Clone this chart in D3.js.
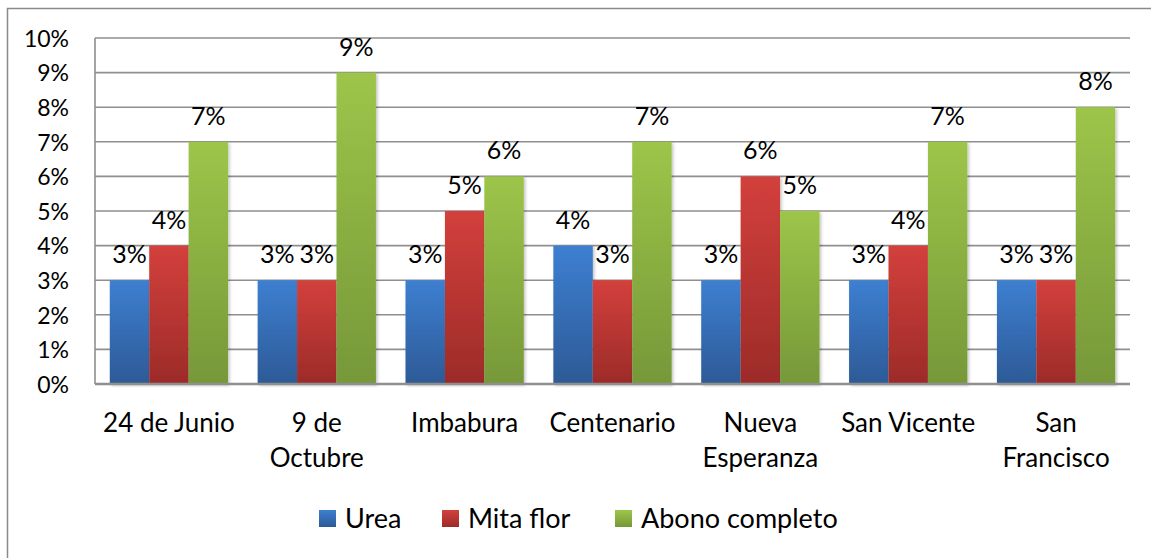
<!DOCTYPE html>
<html>
<head>
<meta charset="utf-8">
<script src="https://cdnjs.cloudflare.com/ajax/libs/d3/7.8.5/d3.min.js"></script>
<style>
  body { margin: 0; background: #fff; }
  svg text { font-family: Lato, "Noto Sans", sans-serif; fill: #000; }
</style>
</head>
<body>
<div class="chart"></div>
<script>
// data
var categories = ["24 de Junio", "9 de\nOctubre", "Imbabura", "Centenario", "Nueva\nEsperanza", "San Vicente", "San\nFrancisco"];
var seriesNames = ["Urea", "Mita flor", "Abono completo"];
var urea = [0.03, 0.03, 0.03, 0.04, 0.03, 0.03, 0.03];
var mitaFlor = [0.04, 0.03, 0.05, 0.03, 0.06, 0.04, 0.03];
var abonoCompleto = [0.07, 0.09, 0.06, 0.07, 0.05, 0.07, 0.08];
var yTicks = [0, 0.01, 0.02, 0.03, 0.04, 0.05, 0.06, 0.07, 0.08, 0.09, 0.10];

var seriesValues = [urea, mitaFlor, abonoCompleto];
var colors = [
  { top: "#3d7fd1", bottom: "#2d5a96" },
  { top: "#d3403c", bottom: "#9c2b28" },
  { top: "#9dc549", bottom: "#769839" }
];

var svgWidth = 1151;
var svgHeight = 558;

var margin = { top: 38, right: 21, bottom: 174, left: 95 };
var width = svgWidth - margin.left - margin.right;
var height = svgHeight - margin.top - margin.bottom;

var svg = d3.select(".chart")
  .append("svg")
  .attr("width", svgWidth)
  .attr("height", svgHeight);

// gradients for the bars
var defs = svg.append("defs");
colors.forEach(function(c, i) {
  var g = defs.append("linearGradient")
    .attr("id", "grad" + i)
    .attr("x1", 0).attr("y1", 0).attr("x2", 0).attr("y2", 1);
  g.append("stop").attr("offset", "0%").attr("stop-color", c.top);
  g.append("stop").attr("offset", "100%").attr("stop-color", c.bottom);
});
var shadow = defs.append("filter").attr("id", "shadow")
  .attr("x", "-20%").attr("y", "-5%").attr("width", "140%").attr("height", "115%");
shadow.append("feDropShadow")
  .attr("dx", 1.5).attr("dy", 1.5).attr("stdDeviation", 1.5)
  .attr("flood-color", "#000").attr("flood-opacity", 0.25);

// outer chart border (only left/top visible, rest is cropped)
svg.append("path")
  .attr("d", "M7.5," + svgHeight + " V8.5 H" + svgWidth)
  .attr("fill", "none")
  .attr("stroke", "#8a8a8a")
  .attr("stroke-width", 1.5);

var chartGroup = svg.append("g")
  .attr("transform", `translate(${margin.left}, ${margin.top})`);

var x0 = d3.scaleBand()
  .domain(d3.range(categories.length))
  .range([0, width])
  .paddingInner(0.2)
  .paddingOuter(0.1);

var x1 = d3.scaleBand()
  .domain(d3.range(seriesNames.length))
  .range([0, x0.bandwidth()]);

var yLinearScale = d3.scaleLinear()
  .domain([0, 0.10])
  .range([height, 0]);

// gridlines
chartGroup.append("g")
  .selectAll("line")
  .data(yTicks.slice(1))
  .enter()
  .append("line")
  .attr("x1", 0)
  .attr("x2", width)
  .attr("y1", d => yLinearScale(d))
  .attr("y2", d => yLinearScale(d))
  .attr("stroke", "#8f8f8f")
  .attr("stroke-width", 1.6);

// y axis labels
var leftAxis = d3.axisLeft(yLinearScale)
  .tickValues(yTicks)
  .tickFormat(d3.format(".0%"))
  .tickSize(0)
  .tickPadding(26);

var yAxis = chartGroup.append("g").call(leftAxis);
yAxis.select(".domain").remove();
yAxis.selectAll("text")
  .style("font-size", "23px")
  .attr("dy", "0.36em");

// bars
var groups = chartGroup.selectAll(".cat")
  .data(categories)
  .enter()
  .append("g")
  .attr("class", "cat")
  .attr("transform", (d, i) => `translate(${x0(i)}, 0)`);

groups.selectAll("rect")
  .data((d, i) => seriesValues.map((s, j) => ({ s: j, v: s[i] })))
  .enter()
  .append("rect")
  .attr("x", d => x1(d.s))
  .attr("y", d => yLinearScale(d.v))
  .attr("width", x1.bandwidth())
  .attr("height", d => height - yLinearScale(d.v))
  .attr("fill", d => `url(#grad${d.s})`)
  .attr("filter", "url(#shadow)");

// data labels
groups.selectAll(".val")
  .data((d, i) => seriesValues.map((s, j) => ({ s: j, v: s[i] })))
  .enter()
  .append("text")
  .attr("class", "val")
  .attr("x", d => x1(d.s) + x1.bandwidth() / 2)
  .attr("y", d => yLinearScale(d.v) - 17)
  .attr("text-anchor", "middle")
  .style("font-size", "25px")
  .text(d => d3.format(".0%")(d.v));

// axes lines
chartGroup.append("line")
  .attr("x1", 0).attr("x2", 0)
  .attr("y1", 0).attr("y2", height)
  .attr("stroke", "#8f8f8f")
  .attr("stroke-width", 1.6);
chartGroup.append("line")
  .attr("x1", 0).attr("x2", width)
  .attr("y1", height).attr("y2", height)
  .attr("stroke", "#8f8f8f")
  .attr("stroke-width", 2.5);

// category labels
var catLabels = chartGroup.selectAll(".catlabel")
  .data(categories)
  .enter()
  .append("text")
  .attr("class", "catlabel")
  .attr("x", (d, i) => x0(i) + x0.bandwidth() / 2)
  .attr("y", height + 48)
  .attr("text-anchor", "middle")
  .style("font-size", "26px");

catLabels.selectAll("tspan")
  .data(d => d.split("\n"))
  .enter()
  .append("tspan")
  .attr("x", function() { return d3.select(this.parentNode).attr("x"); })
  .attr("dy", (d, i) => i === 0 ? 0 : 35)
  .text(d => d);

// legend
var legendX = [319, 442, 615];
var legend = svg.append("g")
  .selectAll("g")
  .data(seriesNames)
  .enter()
  .append("g")
  .attr("transform", (d, i) => `translate(${legendX[i]}, 510)`);

legend.append("rect")
  .attr("width", 17)
  .attr("height", 17)
  .attr("fill", (d, i) => `url(#grad${i})`);

legend.append("text")
  .attr("x", 26)
  .attr("y", 18)
  .style("font-size", "27px")
  .text(d => d);
</script>
</body>
</html>
